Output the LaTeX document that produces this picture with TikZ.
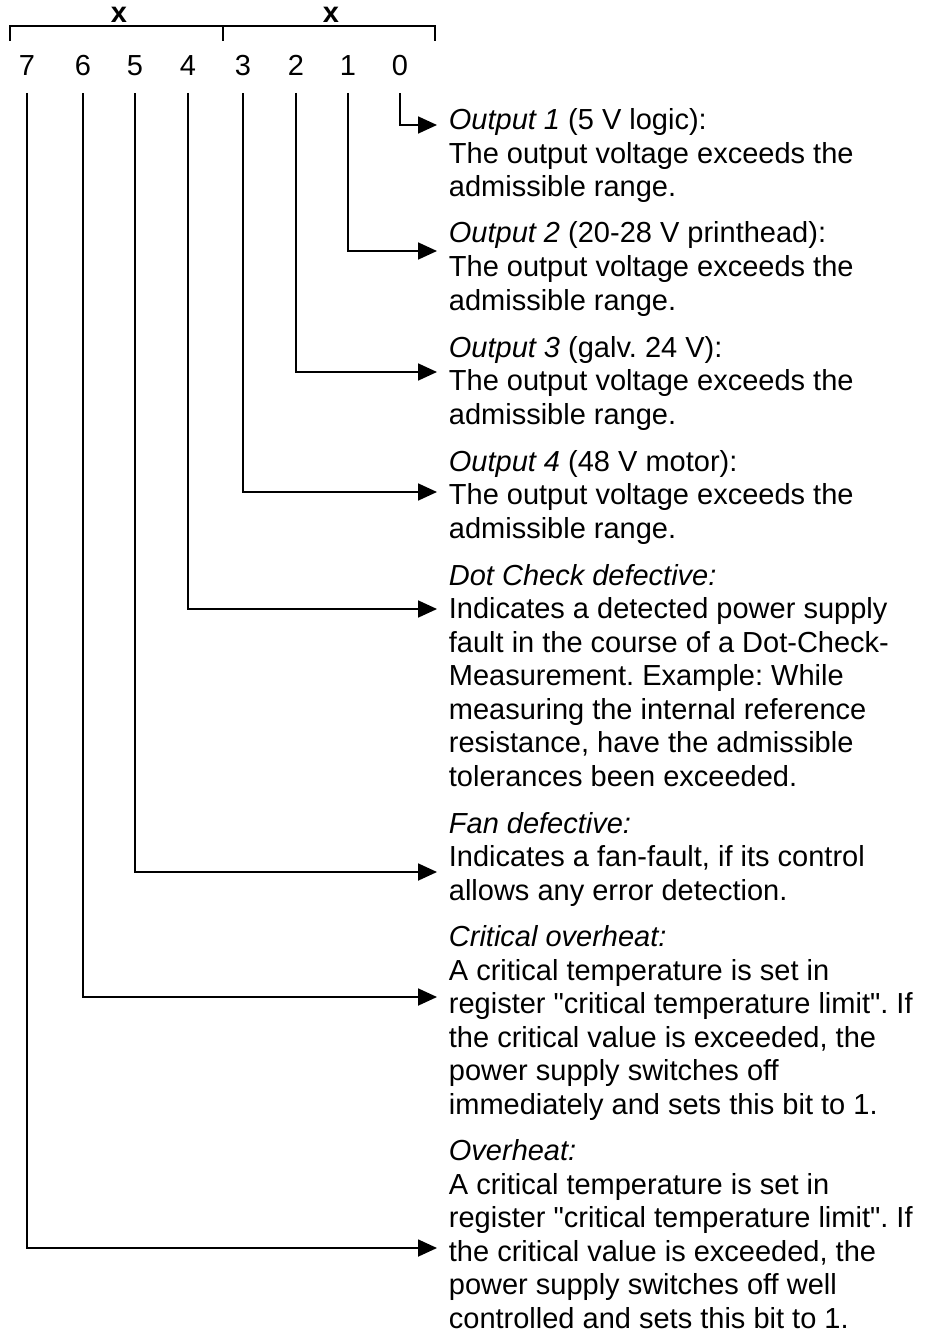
\documentclass[tikz,border=0pt]{standalone}
\usepackage{fontspec}
\setmainfont{Liberation Sans}[Ligatures=TeXOff]
\usepackage{tikz}
\usetikzlibrary{arrows.meta, positioning}
\frenchspacing

\tikzset{
  txt/.style={font=\fontsize{29pt}{33.5pt}\selectfont, inner sep=0pt},
  bit/.style={txt, anchor=base, outer ysep=17.5pt},
  desc/.style={txt, anchor=base west, align=left},
  sig/.style={line width=1.8pt, -{Triangle[length=19pt,width=17pt]}},
}

\begin{document}
\begin{tikzpicture}[x=1pt, y=-1pt, line width=1.8pt]
    \useasboundingbox (0,0) rectangle (930,1337);

    % byte bracket
    \draw (10,41) -- (10,26) -- (435,26) -- (435,41);
    \draw (223,26) -- (223,41);
    \node[txt, anchor=base] (hi) at (119,23) {\textbf{x}};
    \node[txt, anchor=base] (lo) at (331,23) {\textbf{x}};

    % bit numbers
    \foreach \i/\x in {0/400, 1/348, 2/296, 3/243, 4/188, 5/135, 6/83, 7/27}
        \node[bit] (b\i) at (\x,75.5) {\i};

    % descriptions (placed at the baseline of their last line)
    \node[desc] (d0) at (448,197) {\textit{Output 1} (5 V logic):\\
        The output voltage exceeds the\\ admissible range.};
    \node[desc] (d1) at (448,310) {\textit{Output 2} (20-28 V printhead):\\
        The output voltage exceeds the\\ admissible range.};
    \node[desc] (d2) at (448,424) {\textit{Output 3} (galv. 24 V):\\
        The output voltage exceeds the\\ admissible range.};
    \node[desc] (d3) at (448,538) {\textit{Output 4} (48 V motor):\\
        The output voltage exceeds the\\ admissible range.};
    \node[desc] (d4) at (448,786) {\textit{Dot Check defective:}\\
        Indicates a detected power supply\\
        fault in the course of a Dot-Check-\\
        Measurement. Example: While\\
        measuring the internal reference\\
        resistance, have the admissible\\
        tolerances been exceeded.};
    \node[desc] (d5) at (448,900) {\textit{Fan defective:}\\
        Indicates a fan-fault, if its control\\
        allows any error detection.};
    \node[desc] (d6) at (448,1114) {\textit{Critical overheat:}\\
        A critical temperature is set in\\
        register "critical temperature limit". If\\
        the critical value is exceeded, the\\
        power supply switches off\\
        immediately and sets this bit to 1.};
    \node[desc] (d7) at (448,1328) {\textit{Overheat:}\\
        A critical temperature is set in\\
        register "critical temperature limit". If\\
        the critical value is exceeded, the\\
        power supply switches off well\\
        controlled and sets this bit to 1.};

    % bit -> description
    \foreach \i/\y in {0/125, 1/251, 2/372, 3/492, 4/609, 5/872, 6/997, 7/1248} {
        \coordinate (e\i) at (437,\y);
        \draw[sig] (b\i) |- (e\i);
    }
\end{tikzpicture}
\end{document}
